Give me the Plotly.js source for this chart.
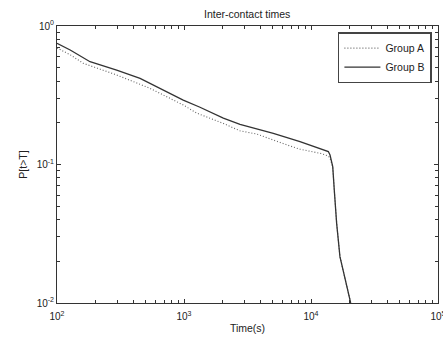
<!DOCTYPE html>
<html>
<head>
<meta charset="utf-8">
<script src="https://cdn.plot.ly/plotly-3.0.1.min.js"></script>
<style>html,body{margin:0;padding:0;background:#fff;}#chart{width:443px;height:340px;}</style>
</head>
<body>
<div id="chart"></div>
<script>
// Group A (dotted)
const timeA = [100, 127, 161, 295, 539, 986, 1259, 2040, 2760, 3730, 6840, 8190, 12000, 13690, 14120, 14830, 15250, 15920, 16900, 18520, 20540];
const probA = [0.694, 0.62, 0.538, 0.443, 0.355, 0.269, 0.235, 0.198, 0.175, 0.166, 0.136, 0.129, 0.12, 0.115, 0.111, 0.0964, 0.0655, 0.0376, 0.0216, 0.0147, 0.01];
// Group B (solid)
const timeB = [100, 127, 182, 295, 451, 647, 986, 1336, 2040, 2760, 5050, 8190, 11770, 13690, 14120, 14830, 15250, 15920, 16900, 18520, 20540];
const probB = [0.750, 0.671, 0.552, 0.481, 0.419, 0.355, 0.292, 0.259, 0.216, 0.195, 0.168, 0.146, 0.13, 0.124, 0.117, 0.0964, 0.0655, 0.0376, 0.0216, 0.0147, 0.01];

const seriesNames = ['Group A', 'Group B'];
const xTickVals = [100, 1000, 10000, 100000];
const xTickText = ['10<sup>2</sup>', '10<sup>3</sup>', '10<sup>4</sup>', '10<sup>5</sup>'];
const yTickVals = [0.01, 0.1, 1];
const yTickText = ['10<sup>-2</sup>', '10<sup>-1</sup>', '10<sup>0</sup>'];

function minorLog(lo, hi) {
  const out = [];
  for (let e = lo; e < hi; e++) for (let m = 2; m <= 9; m++) out.push(m * Math.pow(10, e));
  return out;
}

const traces = [
  {x: timeA, y: probA, name: seriesNames[0], mode: 'lines', type: 'scatter',
   line: {color: '#666', width: 1.1, dash: '1px,2px'}},
  {x: timeB, y: probB, name: seriesNames[1], mode: 'lines', type: 'scatter',
   line: {color: '#333', width: 1.3}}
];

const axisCommon = {
  type: 'log', showgrid: false, zeroline: false, showline: true, linecolor: '#333', linewidth: 1,
  mirror: 'allticks', ticks: 'inside', ticklen: 4, tickcolor: '#333', tickwidth: 1,
  ticklabeloverflow: 'allow',
  tickfont: {family: 'Liberation Sans, Arial, sans-serif', size: 10, color: '#222'}
};

const layout = {
  width: 443, height: 340,
  margin: {l: 57, r: 5, t: 26, b: 37},
  paper_bgcolor: '#fff', plot_bgcolor: '#fff',
  font: {family: 'Liberation Sans, Arial, sans-serif', size: 10, color: '#222'},
  title: {text: 'Inter-contact times', x: 0.558, xanchor: 'center', y: 0.958, yanchor: 'middle', yref: 'container',
          font: {size: 10.5, color: '#222'}},
  xaxis: Object.assign({}, axisCommon, {
    range: [2, 5], tickmode: 'array', tickvals: xTickVals, ticktext: xTickText,
    ticklabelstandoff: 4,
    minor: {tickmode: 'array', tickvals: minorLog(2, 5), ticks: 'inside', ticklen: 3, tickcolor: '#333', showgrid: false},
    title: {text: 'Time(s)', standoff: 3, font: {size: 10.5}}
  }),
  yaxis: Object.assign({}, axisCommon, {
    range: [-2, 0], tickmode: 'array', tickvals: yTickVals, ticktext: yTickText,
    minor: {tickmode: 'array', tickvals: minorLog(-2, 0), ticks: 'inside', ticklen: 3, tickcolor: '#333', showgrid: false},
    title: {text: 'P[t>T]', standoff: 6, font: {size: 10.5}}
  }),
  showlegend: true,
  legend: {x: 0.984, xanchor: 'right', y: 0.978, yanchor: 'top', bgcolor: '#fff',
           bordercolor: '#444', borderwidth: 1.5, itemwidth: 36, tracegroupgap: 0,
           font: {size: 10.5, color: '#222'}}
};

Plotly.newPlot('chart', traces, layout, {displayModeBar: false, staticPlot: true});
</script>
</body>
</html>
